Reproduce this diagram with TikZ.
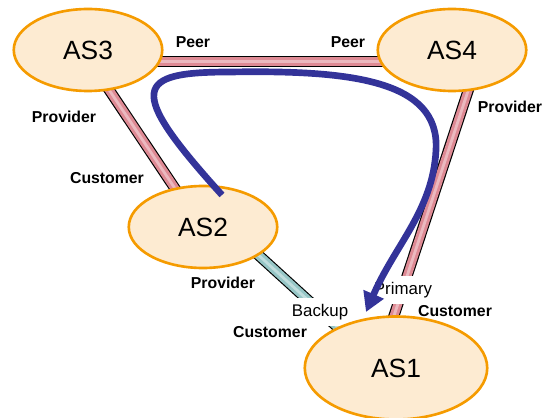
\documentclass[tikz,border=0pt]{standalone}
\usepackage{fontspec}
\setmainfont{Liberation Sans}
\usetikzlibrary{shapes.geometric,arrows.meta,backgrounds}
\definecolor{asfill}{RGB}{253,235,210}
\definecolor{asborder}{RGB}{245,155,0}
\definecolor{linkpink}{RGB}{222,138,148}
\definecolor{linkteal}{RGB}{150,198,198}
\definecolor{pathblue}{RGB}{51,51,153}
\tikzset{
  asnode/.style={ellipse,draw=asborder,fill=asfill,line width=1.5pt,minimum width=2.97cm,minimum height=1.64cm,inner sep=0pt,font=\fontsize{15}{18}\selectfont},
  tube/.style={draw=#1,line width=5pt,preaction={draw=black,line width=6.3pt},postaction={draw=#1!60!white,line width=1.6pt},shorten <=-6pt,shorten >=-6pt},
  role/.style={anchor=base,inner sep=0pt,font=\fontsize{9}{11}\selectfont\bfseries},
  pathtag/.style={anchor=base,fill=white,inner xsep=1pt,inner ysep=3.5pt,font=\fontsize{9.6}{11}\selectfont}
}
\begin{document}
\begin{tikzpicture}[x=0.02cm,y=-0.02cm]
\useasboundingbox (0,0) rectangle (543,418);
%% the four autonomous systems
\node[asnode] (AS3) at (88,50) {AS3};
\node[asnode] (AS4) at (452,50) {AS4};
\node[asnode] (AS2) at (203,227) {AS2};
\node[asnode,minimum width=3.65cm,minimum height=2.06cm] (AS1) at (396,368) {AS1};
\begin{pgfonlayer}{background}
%% links, tucked under the ellipses
\draw[tube=linkpink] (AS3.-9) -- (AS4.-171);
\draw[tube=linkpink] (AS3.-62) -- (AS2.126);
\draw[tube=linkpink] (AS4.-69) -- (AS1.92);
\draw[tube=linkteal] (AS2.-27) -- (AS1.145);
\node[pathtag] (backup) at (320,316) {Backup};
\node[pathtag] (primary) at (403,294) {Primary};
\end{pgfonlayer}
%% relationship labels
\node[role] (peer3) at (193,48) {Peer};
\node[role] (peer4) at (348,48) {Peer};
\node[role] (prov3) at (64,123) {Provider};
\node[role] (cust2) at (107,184) {Customer};
\node[role] (prov4) at (510,113) {Provider};
\node[role] (prov2) at (223,288) {Provider};
\node[role] (cust1l) at (270,337) {Customer};
\node[role] (cust1r) at (455,316) {Customer};
%% route taken from AS2 to AS1
\coordinate (start) at (222,195);
\coordinate (tip) at (366,312);
\draw[pathblue,line width=3.8pt,-{Triangle[length=11pt,width=12pt]}] (start) .. controls (125,88) and (135,72) .. (230,72) .. controls (350,70) and (440,80) .. (436,150) .. controls (433,210) and (395,245) .. (tip);
\end{tikzpicture}
\end{document}
